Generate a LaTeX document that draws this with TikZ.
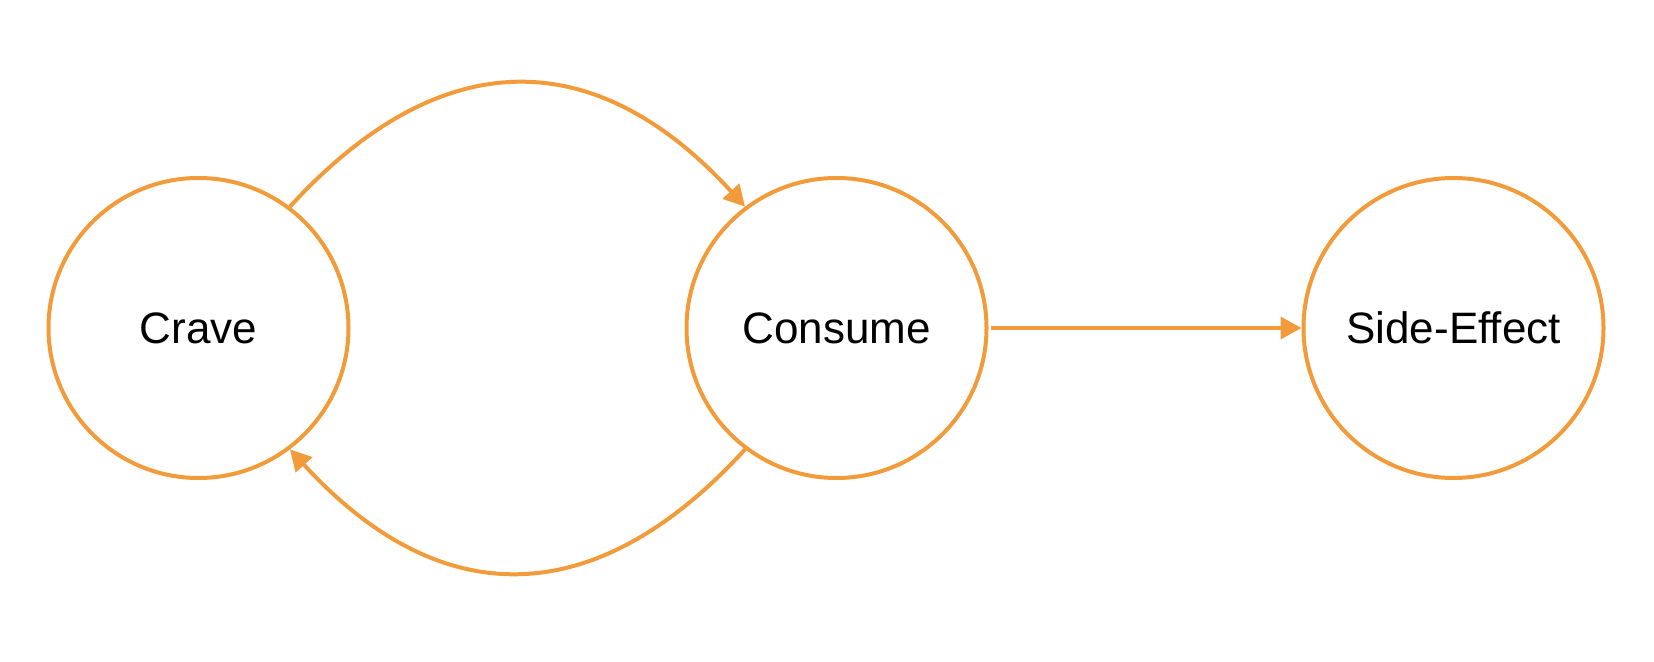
\documentclass[tikz,border=0pt]{standalone}
\usepackage{fontspec}
\setmainfont{Liberation Sans}
\usetikzlibrary{arrows.meta}
\definecolor{orng}{RGB}{242,155,58}
\begin{document}
\begin{tikzpicture}[x=0.5pt,y=-0.5pt,
  state/.style={circle,draw=orng,line width=2pt,minimum size=150pt,inner sep=0pt,
    font=\fontsize{22pt}{26pt}\selectfont},
  conn/.style={draw=orng,line width=2pt,-{Triangle[length=10.5pt,width=11pt]}}]
\useasboundingbox (0,0) rectangle (1654,662);
\node[state] (crave) at (198.5,328) {Crave};
\node[state] (consume) at (836.5,328) {Consume};
\node[state] (side) at (1453.5,328) {Side-Effect};
\draw[conn] (crave.53) .. controls +(150,-164) and +(-150,-164) .. (consume.127);
\draw[conn] (consume.233) .. controls +(-150,164) and +(150,164) .. (crave.-53);
\draw[conn,shorten <=1pt] (consume.east) -- (side.west);
\end{tikzpicture}
\end{document}
